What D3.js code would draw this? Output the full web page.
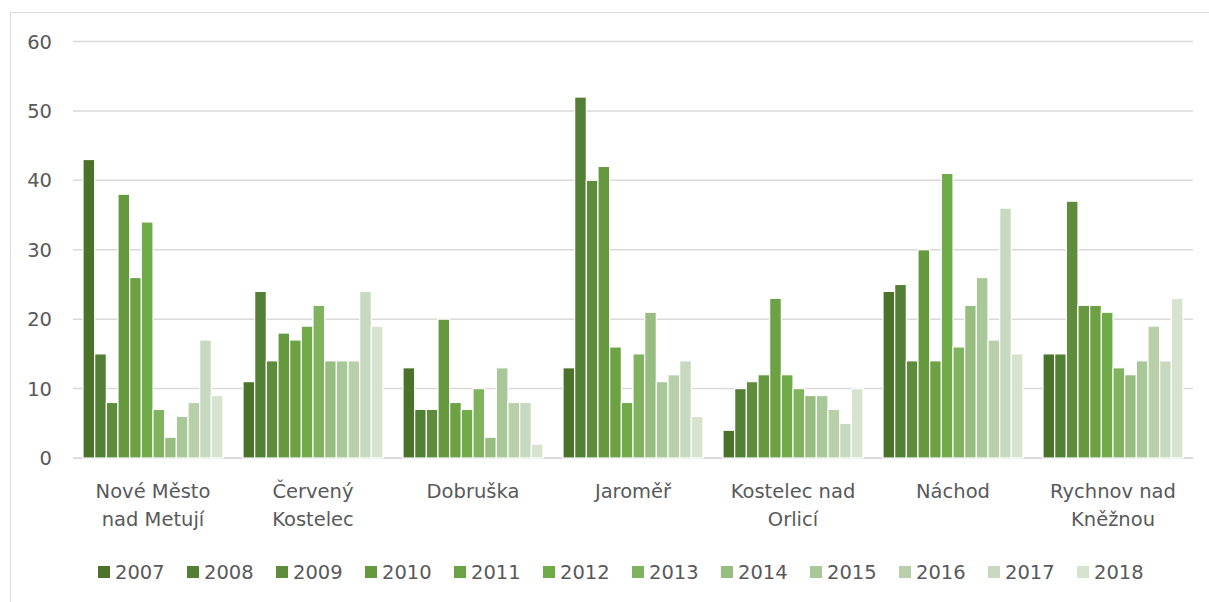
<!DOCTYPE html>
<html>
<head>
<meta charset="utf-8">
<script src="https://cdn.jsdelivr.net/npm/d3@7"></script>
<style>
  html, body { margin: 0; padding: 0; background: #fff; }
  svg { display: block; }
  text { font-family: "DejaVu Sans", sans-serif; fill: #595959; }
</style>
</head>
<body>
<svg id="chart" width="1209" height="602"></svg>
<script>
const categories = [
  ["Nové Město", "nad Metují"],
  ["Červený", "Kostelec"],
  ["Dobruška"],
  ["Jaroměř"],
  ["Kostelec nad", "Orlicí"],
  ["Náchod"],
  ["Rychnov nad", "Kněžnou"]
];
const years = ["2007","2008","2009","2010","2011","2012","2013","2014","2015","2016","2017","2018"];
const colors = ["#4a7229","#527f33","#5e8b3c","#66983f","#6ca244","#71ab47","#80b25f","#97bd80","#a8c899","#b9cfaa","#c8d9bf","#d7e3cf"];
// values per category, one entry per year
const nove     = [43, 15, 8, 38, 26, 34, 7, 3, 6, 8, 17, 9];
const cerveny  = [11, 24, 14, 18, 17, 19, 22, 14, 14, 14, 24, 19];
const dobruska = [13, 7, 7, 20, 8, 7, 10, 3, 13, 8, 8, 2];
const jaromer  = [13, 52, 40, 42, 16, 8, 15, 21, 11, 12, 14, 6];
const kostelec = [4, 10, 11, 12, 23, 12, 10, 9, 9, 7, 5, 10];
const nachod   = [24, 25, 14, 30, 14, 41, 16, 22, 26, 17, 36, 15];
const rychnov  = [15, 15, 37, 22, 22, 21, 13, 12, 14, 19, 14, 23];
const values = [nove, cerveny, dobruska, jaromer, kostelec, nachod, rychnov];
const yTicks = [0, 10, 20, 30, 40, 50, 60];

const svg = d3.select("#chart");
const mLeft = 73, mRight = 1193, mTop = 41.5, mBottom = 458;
const fs = 19.5;

// chart border (top and left visible)
svg.append("line").attr("x1", 10.5).attr("x2", 1209).attr("y1", 12.5).attr("y2", 12.5)
  .attr("stroke", "#d9d9d9").attr("stroke-width", 1);
svg.append("line").attr("x1", 10.5).attr("x2", 10.5).attr("y1", 12.5).attr("y2", 602)
  .attr("stroke", "#d9d9d9").attr("stroke-width", 1);

const x0 = d3.scaleBand().domain(d3.range(categories.length)).range([mLeft, mRight])
  .paddingInner(0.125).paddingOuter(0.0625);
const x1 = d3.scaleBand().domain(years).range([0, x0.bandwidth()]).padding(0);
const y = d3.scaleLinear().domain([0, 60]).range([mBottom, mTop]);

// gridlines
svg.append("g").selectAll("line").data(yTicks).join("line")
  .attr("x1", mLeft).attr("x2", mRight)
  .attr("y1", d => y(d)).attr("y2", d => y(d))
  .attr("stroke", d => d === 0 ? "#d0d0d0" : "#d9d9d9").attr("stroke-width", 1.5);

// y labels
svg.append("g").selectAll("text").data(yTicks).join("text")
  .attr("x", 52).attr("y", d => y(d)).attr("dy", "0.36em")
  .attr("text-anchor", "end").attr("font-size", fs).text(d => d);

// bars
const groups = svg.append("g").selectAll("g").data(values).join("g")
  .attr("transform", (d, i) => `translate(${x0(i)},0)`);
groups.selectAll("rect").data(d => d.map((v, j) => ({ v, j }))).join("rect")
  .attr("x", d => x1(years[d.j]))
  .attr("width", x1.bandwidth())
  .attr("y", d => y(d.v))
  .attr("height", d => y(0) - y(d.v))
  .attr("fill", d => colors[d.j])
  .attr("stroke", "#fff").attr("stroke-width", 1.2);

// category labels
const cl = svg.append("g").selectAll("text").data(categories).join("text")
  .attr("text-anchor", "middle").attr("font-size", fs)
  .attr("x", (d, i) => x0(i) + x0.bandwidth() / 2).attr("y", 498);
cl.selectAll("tspan").data(d => d).join("tspan")
  .attr("x", function() { return d3.select(this.parentNode).attr("x"); })
  .attr("dy", (d, k) => k === 0 ? 0 : 28)
  .text(d => d);

// legend
const lg = svg.append("g").selectAll("g").data(years).join("g")
  .attr("transform", (d, i) => `translate(${98 + i * 89},566)`);
lg.append("rect").attr("width", 12).attr("height", 12).attr("fill", (d, i) => colors[i]);
lg.append("text").attr("x", 17).attr("y", 6).attr("dy", "0.36em").attr("font-size", fs).text(d => d);
</script>
</body>
</html>
